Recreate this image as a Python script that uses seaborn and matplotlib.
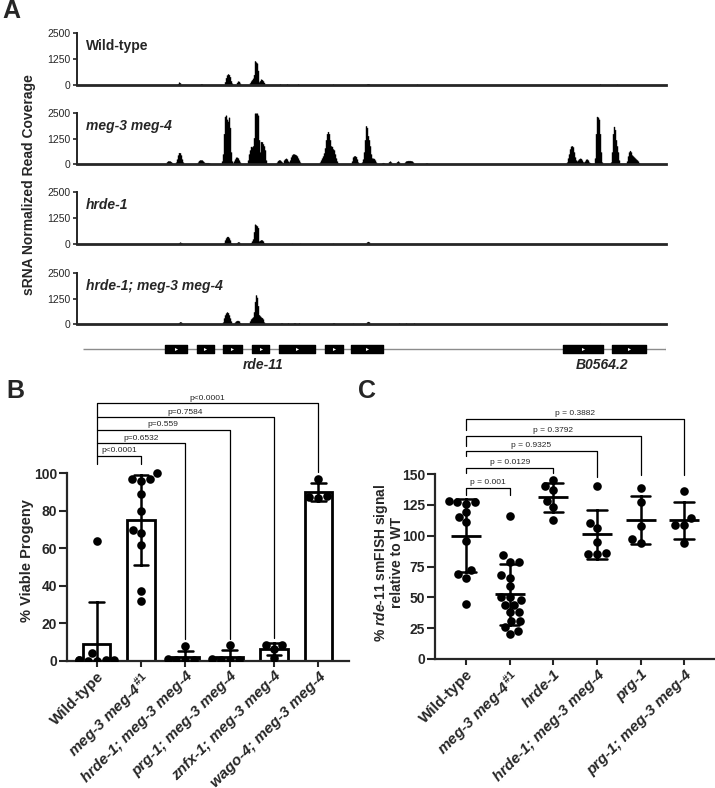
import numpy as np
import pandas as pd
import matplotlib
matplotlib.use("Agg")
import matplotlib.pyplot as plt
import seaborn as sns

# ---------------- Panel A data (coverage in 20-bp bins) ----------------
track_names = ["Wild-type", "meg-3 meg-4", "hrde-1", "hrde-1; meg-3 meg-4"]
track_italic = [False, True, True, True]
cov_ticks = [0, 1250, 2500]
locus_first_bin, locus_last_bin = 77, 666

wt_cov = [(178, [60, 130, 100]), (201, [50, 40]),
          (225, [150, 350, 480, 530, 500, 400, 200, 80]),
          (237, [120, 180, 170, 80]),
          (250, [100, 180, 250, 320, 500, 1160, 1100, 1050, 700, 150, 200, 275, 260, 200, 120]),
          (280, [40]), (287, [40]), (298, [40]), (333, [30]), (367, [40, 60, 40]),
          (417, [30]), (600, [40]), (617, [30])]
meg_cov = [(167, [120, 160, 160, 150, 120, 80]),
           (176, [100, 250, 450, 570, 560, 450, 250, 100]),
           (198, [100, 180, 210, 210, 200, 150, 100, 80, 80, 80, 80, 60, 40]),
           (222, [150, 500, 1500, 2340, 2400, 2200, 2100, 2300, 1800, 600, 150]),
           (234, [150, 250, 340, 340, 300, 200, 100]),
           (248, [200, 500, 700, 870, 850, 900, 1300, 2500, 2500, 2500, 2400, 1200, 600,
                  1110, 1100, 1000, 900, 700, 200]),
           (277, [100, 180, 210, 200, 150, 100, 80, 200, 260, 290, 250, 150, 120, 200, 350,
                  450, 500, 500, 480, 450, 400, 300, 200, 100]),
           (320, [100, 200, 300, 400, 550, 800, 1200, 1500, 1600, 1500, 1200, 900, 870, 750,
                  700, 500, 300, 150, 50]),
           (352, [150, 350, 400, 410, 375, 250, 100]),
           (362, [100, 250, 600, 1200, 1880, 1800, 1400, 1200, 900, 500, 300, 290, 280, 200, 100]),
           (382, [50, 80, 60]), (389, [120, 150, 100]), (397, [120, 150, 100]),
           (405, [100, 150, 170, 180, 180, 180, 170, 150, 100]), (426, [50, 50]),
           (567, [100, 300, 500, 750, 880, 900, 850, 600, 350, 200, 150, 200, 260, 290, 280,
                  200, 120, 100, 150, 240, 245, 200, 100, 80]),
           (595, [300, 1500, 2340, 2300, 2200, 1500, 600, 100]),
           (611, [100, 600, 1500, 1850, 1700, 1200, 900, 600, 200]),
           (627, [150, 400, 600, 670, 600, 450, 400, 350, 300, 250, 210, 150, 80])]
hrde_cov = [(179, [60, 96, 80, 40]),
            (224, [80, 200, 300, 370, 370, 300, 200, 80]),
            (237, [80, 110, 100, 40]),
            (251, [80, 150, 250, 600, 960, 920, 880, 800, 150, 180, 210, 200, 150, 60]),
            (280, [30]), (292, [40]), (300, [40]), (333, [40]), (367, [100, 130, 100]),
            (417, [30]), (618, [20])]
hrde_meg_cov = [(179, [80, 115, 100, 50]),
                (223, [100, 300, 450, 540, 590, 560, 450, 300, 150]),
                (235, [100, 150, 180, 180, 150, 80]),
                (250, [150, 250, 300, 350, 600, 1100, 1415, 1300, 900, 460, 400, 345, 320, 250, 100]),
                (281, [50, 50]), (288, [50]), (294, [60, 60]), (299, [60]), (333, [60, 60]),
                (353, [40]), (367, [100, 130, 110]), (399, [50]), (406, [50]), (414, [50]),
                (600, [40]), (618, [40])]
all_cov = [wt_cov, meg_cov, hrde_cov, hrde_meg_cov]

gene_names = ["rde-11", "B0564.2"]
gene_label_bins = [263, 602]
rde11_exons = [(165, 187), (197, 214), (223, 242), (252, 269), (279, 315), (325, 343), (351, 383)]
b0564_exons = [(563, 603), (612, 646)]
gene_line = (83, 666)

# ---------------- Panel B data ----------------
b_groups = ["Wild-type", "meg-3 meg-4$^{\\,\\#1}$", "hrde-1; meg-3 meg-4",
            "prg-1; meg-3 meg-4", "znfx-1; meg-3 meg-4", "wago-4; meg-3 meg-4"]
b_wt = [64, 4, 0.6, 0.4, 0.3, 0.2, 0.1, 0]
b_meg = [100, 96, 97, 97, 89, 80, 68, 70, 62, 37, 32]
b_hrde = [7.8, 0.8, 0.5, 0.3, 0.2]
b_prg = [8.5, 0.7, 0.5, 0.3, 0.2]
b_znfx = [6.5, 8.3, 8.3, 1.5]
b_wago = [97, 87, 87.5, 88]
b_pvals = ["p<0.0001", "p=0.6532", "p=0.559", "p=0.7584", "p<0.0001"]
b_br_top = [109.4, 116, 123.1, 129.9, 137.3]
b_br_left = [104.8, 109.4, 116, 123.1, 129.9]
b_br_right = [104.8, 11.4, 11.4, 12, 100.9]

# ---------------- Panel C data ----------------
c_groups = ["Wild-type", "meg-3 meg-4$^{\\,\\#1}$", "hrde-1", "hrde-1; meg-3 meg-4",
            "prg-1", "prg-1; meg-3 meg-4"]
c_wt = [127, 128, 127, 126, 119, 115, 111, 96, 72, 66, 69, 45]
c_meg = [116, 84, 79, 79, 66, 68, 59, 50, 48, 50, 44, 44, 38, 38, 31, 31, 26, 20, 23]
c_hrde = [145, 137, 140, 128, 123, 113]
c_hrde_meg = [140, 110, 106, 95, 85, 86, 85]
c_prg = [139, 127, 108, 94, 97]
c_prg_meg = [136, 114, 109, 109, 94]
c_pvals = ["p = 0.001", "p = 0.0129", "p = 0.9325", "p = 0.3792", "p = 0.3882"]
c_br_top = [138.4, 155.1, 168.9, 180.8, 194.6]
c_br_left = [133, 151, 164.6, 172.7, 185.7]
c_br_right = [133, 151, 147.8, 149, 149]

# ---------------- style ----------------
sns.set_style("ticks")
plt.rcParams["font.family"] = ["Liberation Sans", "DejaVu Sans"]
plt.rcParams["mathtext.fontset"] = "custom"
plt.rcParams["mathtext.rm"] = "Liberation Sans:bold"
plt.rcParams["mathtext.bf"] = "Liberation Sans:bold"
plt.rcParams["mathtext.it"] = "Liberation Sans:italic:bold"

W, H = 715, 788
fig = plt.figure(figsize=(W / 100, H / 100), dpi=100)
fig.patch.set_facecolor("white")


def px_axes(left, top, right, bottom):
    return fig.add_axes([left / W, 1 - bottom / H, (right - left) / W, (bottom - top) / H])


# ---------------- Panel A ----------------
track_px = [(33.3, 85), (113.3, 164.3), (192.3, 244.3), (272.7, 324.3)]
bins = np.arange(locus_first_bin, locus_last_bin + 1)
for (top, bot), name, ital, cov in zip(track_px, track_names, track_italic, all_cov):
    ax = px_axes(77, top, 666, bot)
    y = np.zeros(len(bins))
    for start, vals in cov:
        for i, v in enumerate(vals):
            y[start + i - locus_first_bin] = v
    ax.fill_between(bins, 0, y, step="mid", color="black", linewidth=0.3, edgecolor="black")
    ax.set_xlim(locus_first_bin, locus_last_bin)
    ax.set_ylim(0, 2500)
    ax.set_yticks(cov_ticks)
    ax.set_yticklabels([str(t) for t in cov_ticks], fontsize=7.5)
    ax.set_xticks([])
    ax.spines["top"].set_visible(False)
    ax.spines["right"].set_visible(False)
    ax.spines["left"].set_linewidth(1.4)
    ax.spines["bottom"].set_linewidth(2.0)
    ax.tick_params(axis="y", length=3, width=1.2, pad=1.5)
    ax.patch.set_alpha(0)
    ax.text(0.015, 0.75, name, transform=ax.transAxes, fontsize=10, fontweight="bold",
            fontstyle="italic" if ital else "normal", va="center", ha="left")

fig.text(29 / W, 1 - 185 / H, "sRNA Normalized Read Coverage", rotation=90,
         fontsize=10, fontweight="bold", ha="center", va="center")

# gene model
gax = px_axes(77, 338, 666, 374)
gax.set_xlim(locus_first_bin, locus_last_bin)
gax.set_ylim(0, 36)
gax.axis("off")
gy = 36 - (348.7 - 338)
gax.plot(gene_line, [gy, gy], color="#8c8c8c", lw=1.0, solid_capstyle="butt", zorder=1)
gax.plot([gene_line[1], gene_line[1]], [gy - 2.5, gy + 2.5], color="#8c8c8c", lw=0.8, zorder=1)
eh = 7.7
for exons in (rde11_exons, b0564_exons):
    gax.broken_barh([(s, e - s) for s, e in exons], (gy - eh / 2, eh), color="black", zorder=3)
    gax.plot([(s + e) / 2 for s, e in exons], [gy] * len(exons), linestyle="none",
             marker=">", markersize=2.2, color="white", markeredgewidth=0, zorder=4)
for nm, xb in zip(gene_names, gene_label_bins):
    gax.text(xb, 36 - (365 - 338), nm, fontsize=10, fontweight="bold", fontstyle="italic",
             ha="center", va="center")

# ---------------- Panel B ----------------
b_vals = [b_wt, b_meg, b_hrde, b_prg, b_znfx, b_wago]
dfb = pd.DataFrame({"group": [g for g, v in zip(b_groups, b_vals) for _ in v],
                    "value": [x for v in b_vals for x in v]})
axb = px_axes(67, 660.7 - 142 * 1.874, 349, 660.7)
sns.barplot(data=dfb, x="group", y="value", order=b_groups, errorbar="sd", capsize=0.33,
            width=0.62, color="white", saturation=1, edgecolor="black", linewidth=2.0,
            err_kws={"color": "black", "linewidth": 1.8}, ax=axb)
sns.swarmplot(data=dfb, x="group", y="value", order=b_groups, color="black", size=6.2,
              ax=axb, warn_thresh=1)
axb.set_xlim(-0.67, 5.69)
axb.set_ylim(0, 142)
axb.set_yticks([0, 20, 40, 60, 80, 100])
axb.spines["left"].set_bounds(0, 100)
for br in range(5):
    x0, x1 = 0, br + 1
    axb.plot([x0, x0, x1, x1], [b_br_left[br], b_br_top[br], b_br_top[br], b_br_right[br]],
             color="black", lw=0.9, clip_on=False)
    axb.annotate(b_pvals[br], ((x0 + x1) / 2, b_br_top[br]), xytext=(0, 1.2),
                 textcoords="offset points", ha="center", va="bottom", fontsize=6,
                 annotation_clip=False)
fig.text(27.5 / W, 1 - 561 / H, "% Viable Progeny", rotation=90, fontsize=10.5,
         fontweight="bold", ha="center", va="center")

# ---------------- Panel C ----------------
c_vals = [c_wt, c_meg, c_hrde, c_hrde_meg, c_prg, c_prg_meg]
dfc = pd.DataFrame({"group": [g for g, v in zip(c_groups, c_vals) for _ in v],
                    "value": [x for v in c_vals for x in v]})
axc = px_axes(435, 659 - 200 * 1.2333, 714, 659)
sns.swarmplot(data=dfc, x="group", y="value", order=c_groups, color="black", size=6.2,
              ax=axc, warn_thresh=1)
sns.pointplot(data=dfc, x="group", y="value", order=c_groups, errorbar="sd", capsize=0.45,
              color="black", linestyle="none", marker="_", markersize=22,
              markeredgewidth=2.0, err_kws={"linewidth": 1.8}, ax=axc)
axc.set_xlim(-0.71, 5.68)
axc.set_ylim(0, 200)
axc.set_yticks([0, 25, 50, 75, 100, 125, 150])
axc.spines["left"].set_bounds(0, 150)
for br in range(5):
    x0, x1 = 0, br + 1
    axc.plot([x0, x0, x1, x1], [c_br_left[br], c_br_top[br], c_br_top[br], c_br_right[br]],
             color="black", lw=0.9, clip_on=False)
    axc.annotate(c_pvals[br], ((x0 + x1) / 2, c_br_top[br]), xytext=(0, 1.5),
                 textcoords="offset points", ha="center", va="bottom", fontsize=6,
                 annotation_clip=False)
fig.text(388 / W, 1 - 563 / H, "% $\\mathit{rde}$-$\\mathit{11}$ smFISH signal\nrelative to WT",
         rotation=90, fontsize=10, fontweight="bold", ha="center", va="center",
         linespacing=1.0, multialignment="center")

for ax in (axb, axc):
    ax.set_xlabel("")
    ax.set_ylabel("")
    sns.despine(ax=ax)
    ax.spines["left"].set_linewidth(1.6)
    ax.spines["bottom"].set_linewidth(1.6)
    ax.tick_params(axis="y", length=5.5, width=1.5, labelsize=10, pad=1.5)
    ax.tick_params(axis="x", length=4, width=1.5, pad=2)
    for lab in ax.get_yticklabels():
        lab.set_fontweight("bold")
    labs = ax.get_xticklabels()
    for lab in labs:
        lab.set_rotation(45)
        lab.set_ha("right")
        lab.set_va("top")
        lab.set_rotation_mode("anchor")
        lab.set_fontsize(11)
        lab.set_fontweight("bold")
        if not lab.get_text().startswith("Wild"):
            lab.set_fontstyle("italic")
    ax.patch.set_alpha(0)

# panel letters
fig.text(11 / W, 1 - 11 / H, "A", fontsize=18, fontweight="bold", ha="center", va="center")
fig.text(15 / W, 1 - 391 / H, "B", fontsize=18, fontweight="bold", ha="center", va="center")
fig.text(367 / W, 1 - 391 / H, "C", fontsize=18, fontweight="bold", ha="center", va="center")

fig.savefig("out.png", dpi=100, facecolor="white")
